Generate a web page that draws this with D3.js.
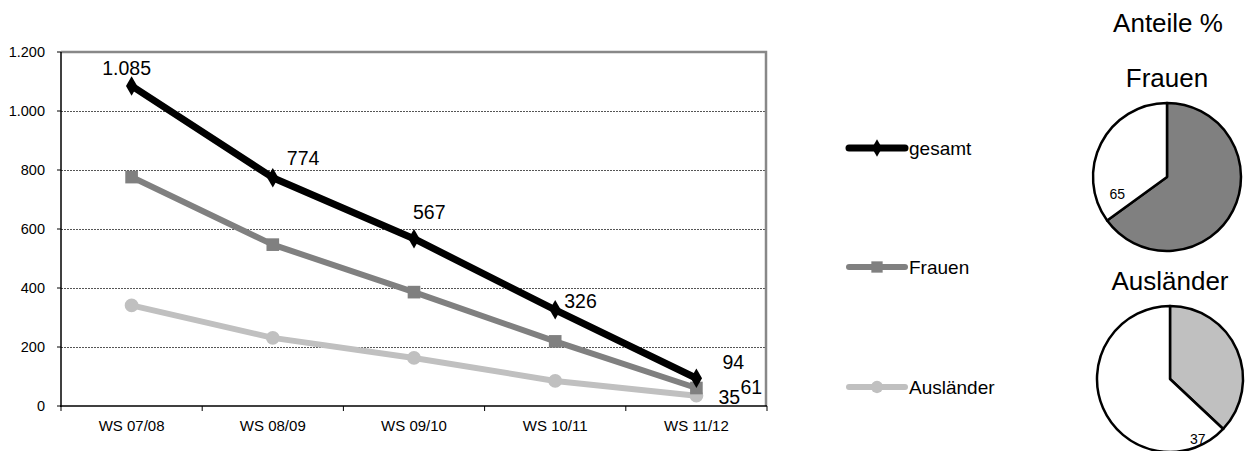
<!DOCTYPE html>
<html>
<head>
<meta charset="utf-8">
<script src="https://cdn.jsdelivr.net/npm/d3@7"></script>
<style>
  body { margin: 0; background: #fff; }
  svg { font-family: Arial, "Liberation Sans", sans-serif; }
</style>
</head>
<body>
<svg id="chart" width="1251" height="451"></svg>
<script>
// data
let semesters = ["WS 07/08", "WS 08/09", "WS 09/10", "WS 10/11", "WS 11/12"];
let gesamt = [1085, 774, 567, 326, 94];
let frauen = [776, 547, 386, 219, 61];
let auslaender = [341, 231, 163, 85, 35];
let yTicks = [0, 200, 400, 600, 800, 1000, 1200];
let shares = [
    { name: "Frauen", value: 65 },
    { name: "Ausländer", value: 37 }
];

// label nudges (px) as placed in the original
let gesamtLabelOff = [[-5, -11, "middle"], [14, -13, "start"], [-1, -20, "start"], [9, -2, "start"], [26, -9, "start"]];
let lastLabelOff = { frauen: [44, 6], auslaender: [22, 8] };

let svg = d3.select("#chart");
let fmt = d3.formatLocale({ decimal: ",", thousands: ".", grouping: [3], currency: ["", "€"] }).format(",d");

let x = d3.scaleBand().domain(semesters).range([61, 767]);
let y = d3.scaleLinear().domain([0, 1200]).range([406, 52]);
let cx = (d) => x(d) + x.bandwidth() / 2;

// grid
svg.append("g").selectAll("line")
    .data(yTicks.filter((d) => d > 0 && d < 1200)).enter()
    .append("line")
    .attr("x1", 61).attr("x2", 766)
    .attr("y1", (d) => y(d) + 0.5).attr("y2", (d) => y(d) + 0.5)
    .attr("stroke", "#555").attr("stroke-width", 1)
    .attr("stroke-dasharray", "2,1");

// frame top/right
svg.append("path")
    .attr("d", "M61," + y(1200) + "H766V406")
    .attr("fill", "none").attr("stroke", "#888").attr("stroke-width", 2.5);

// y axis
let yAxis = svg.append("g");
yAxis.append("line").attr("x1", 61).attr("x2", 61).attr("y1", y(1200)).attr("y2", 407)
    .attr("stroke", "#000").attr("stroke-width", 1.5);
yAxis.selectAll("line.t").data(yTicks).enter().append("line").attr("class", "t")
    .attr("x1", 57).attr("x2", 61).attr("y1", (d) => y(d)).attr("y2", (d) => y(d))
    .attr("stroke", "#000");
yAxis.selectAll("text").data(yTicks).enter().append("text")
    .attr("x", 45).attr("y", (d) => y(d) + 5)
    .attr("text-anchor", "end").attr("font-size", 14.5)
    .text((d) => fmt(d));

// x axis
let xAxis = svg.append("g");
xAxis.append("line").attr("x1", 60).attr("x2", 767).attr("y1", 406).attr("y2", 406)
    .attr("stroke", "#000").attr("stroke-width", 1.5);
xAxis.selectAll("line.t").data(semesters.concat(["end"])).enter().append("line").attr("class", "t")
    .attr("x1", (d, i) => i < 5 ? x(d) : 767).attr("x2", (d, i) => i < 5 ? x(d) : 767)
    .attr("y1", 406).attr("y2", 411).attr("stroke", "#000");
xAxis.selectAll("text").data(semesters).enter().append("text")
    .attr("x", (d) => cx(d)).attr("y", 431)
    .attr("text-anchor", "middle").attr("font-size", 15)
    .text((d) => d);

let line = d3.line().x((d, i) => cx(semesters[i])).y((d) => y(d));

let series = [
    { name: "Ausländer", data: auslaender, color: "#c0c0c0", width: 6, symbol: d3.symbolCircle, size: 150 },
    { name: "Frauen", data: frauen, color: "#808080", width: 6, symbol: d3.symbolSquare, size: 160 },
    { name: "gesamt", data: gesamt, color: "#000", width: 7, symbol: d3.symbolDiamond, size: 110 }
];

series.forEach(function(s) {
    let g = svg.append("g");
    g.append("path").datum(s.data)
        .attr("d", line).attr("fill", "none")
        .attr("stroke", s.color).attr("stroke-width", s.width)
        .attr("stroke-linejoin", "round");
    g.selectAll("path.m").data(s.data).enter().append("path").attr("class", "m")
        .attr("transform", (d, i) => "translate(" + cx(semesters[i]) + "," + y(d) + ")")
        .attr("d", d3.symbol().type(s.symbol).size(s.size))
        .attr("fill", s.color);
});

// data labels
svg.append("g").selectAll("text").data(gesamt).enter().append("text")
    .attr("x", (d, i) => cx(semesters[i]) + gesamtLabelOff[i][0])
    .attr("y", (d, i) => y(d) + gesamtLabelOff[i][1])
    .attr("text-anchor", (d, i) => gesamtLabelOff[i][2])
    .attr("font-size", 19.5)
    .text((d) => fmt(d));
let last = semesters.length - 1;
svg.append("text")
    .attr("x", cx(semesters[last]) + lastLabelOff.frauen[0])
    .attr("y", y(frauen[last]) + lastLabelOff.frauen[1])
    .attr("font-size", 19.5).text(fmt(frauen[last]));
svg.append("text")
    .attr("x", cx(semesters[last]) + lastLabelOff.auslaender[0])
    .attr("y", y(auslaender[last]) + lastLabelOff.auslaender[1])
    .attr("font-size", 19.5).text(fmt(auslaender[last]));

// legend
let legendY = { "gesamt": 148, "Frauen": 267, "Ausländer": 387 };
series.forEach(function(s) {
    let g = svg.append("g").attr("transform", "translate(849," + legendY[s.name] + ")");
    g.append("line").attr("x1", 0).attr("x2", 56)
        .attr("stroke", s.color).attr("stroke-width", s.width).attr("stroke-linecap", "round");
    g.append("path").attr("transform", "translate(28,0)")
        .attr("d", d3.symbol().type(s.symbol).size(s.size * 0.8)).attr("fill", s.color);
    g.append("text").attr("x", 60).attr("y", 7).attr("font-size", 19).text(s.name);
});

// pies
svg.append("text").attr("x", 1168).attr("y", 32).attr("text-anchor", "middle")
    .attr("font-size", 26).text("Anteile %");

let pie = d3.pie().sort(null).value((d) => d);
let pieLayout = [
    { cx: 1167, cy: 177, r: 74, titleY: 87, fill: "#808080", la: 0.3, lr: 0.71 },
    { cx: 1170, cy: 379, r: 73, titleY: 290, fill: "#c0c0c0", la: 0.38, lr: 0.9 }
];
shares.forEach(function(s, k) {
    let L = pieLayout[k];
    svg.append("text").attr("x", L.cx).attr("y", L.titleY).attr("text-anchor", "middle")
        .attr("font-size", 26).text(s.name);
    let arc = d3.arc().innerRadius(0).outerRadius(L.r);
    let g = svg.append("g").attr("transform", "translate(" + L.cx + "," + L.cy + ")");
    let slices = pie([s.value, 100 - s.value]);
    g.selectAll("path").data(slices).enter().append("path")
        .attr("d", arc)
        .attr("fill", (d, i) => i === 0 ? L.fill : "#fff")
        .attr("stroke", "#000").attr("stroke-width", 2.5).attr("stroke-linejoin", "round");
    // label sits in the white slice, just past the boundary
    let a = slices[1].startAngle + L.la;
    let rr = L.r * L.lr;
    g.append("text")
        .attr("x", Math.sin(a) * rr).attr("y", -Math.cos(a) * rr + 5)
        .attr("text-anchor", "middle").attr("font-size", 14)
        .text(s.value);
});
</script>
</body>
</html>
